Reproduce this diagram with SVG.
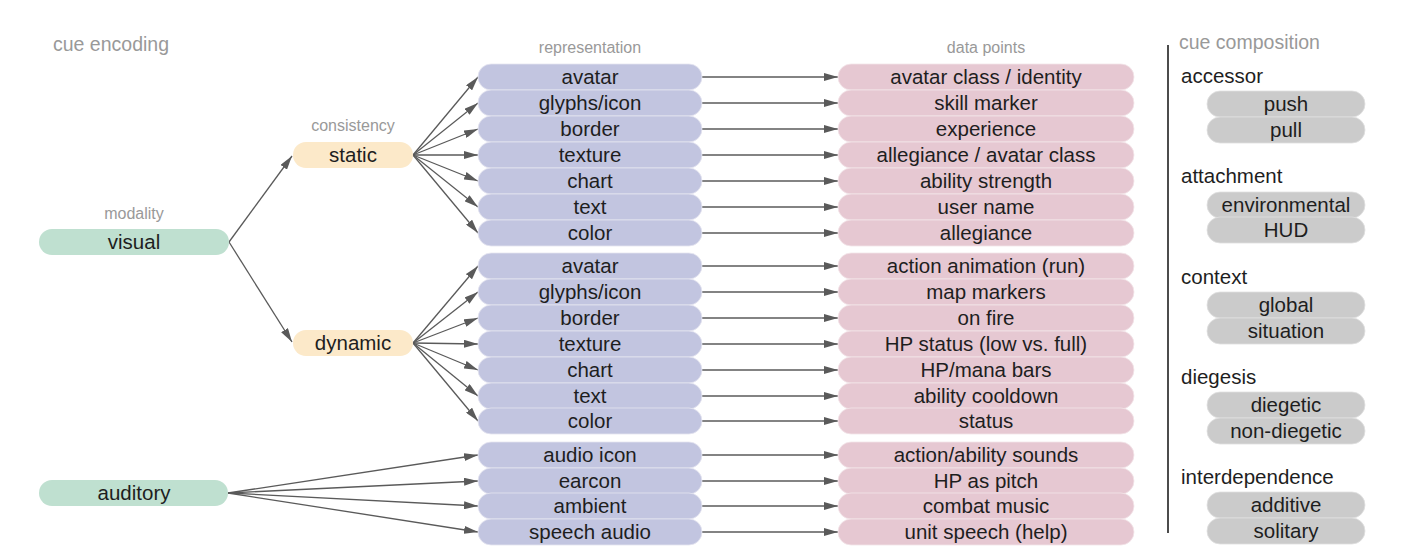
<svg xmlns="http://www.w3.org/2000/svg" width="1416" height="560" viewBox="0 0 1416 560">
<defs>
<marker id="ah" viewBox="0 0 14 8" refX="14" refY="4" markerWidth="14" markerHeight="8" markerUnits="userSpaceOnUse" orient="auto">
<path d="M0,0 L14,4 L0,8 z" fill="#5a5a5a"/>
</marker>
<style>
.hdr{font-family:"Liberation Sans",Arial,sans-serif;font-size:16px;fill:#999;text-anchor:middle}
.big{font-family:"Liberation Sans",Arial,sans-serif;font-size:19.5px;fill:#999}
.t{font-family:"Liberation Sans",Arial,sans-serif;font-size:20.5px;fill:#1e1e1e;text-anchor:middle}
.cat{font-family:"Liberation Sans",Arial,sans-serif;font-size:20.5px;fill:#1e1e1e}
.g{fill:#bfe0d0}
.o{fill:#fce9c9}
.b{fill:#c2c5e0;stroke:#e4e5f0;stroke-width:0.8}
.p{fill:#e6c8d2;stroke:#f2e4e8;stroke-width:0.8}
.s{fill:#cbcbcb;stroke:#e0e0e0;stroke-width:0.8}
.c{stroke:#5a5a5a;stroke-width:1.3;fill:none;marker-end:url(#ah)}
</style>
</defs>
<rect width="1416" height="560" fill="#fff"/>

<g id="headers">
<text class="big" x="53" y="51">cue encoding</text>
<text class="hdr" x="134" y="219">modality</text>
<text class="hdr" x="353" y="131">consistency</text>
<text class="hdr" x="590" y="53">representation</text>
<text class="hdr" x="986" y="53">data points</text>
<text class="big" x="1179" y="49">cue composition</text>
</g>

<g id="connectors">
<line class="c" x1="229" y1="242" x2="292" y2="156"/>
<line class="c" x1="229" y1="242" x2="292" y2="342"/>
<line class="c" x1="413" y1="155" x2="478" y2="77"/>
<line class="c" x1="413" y1="155" x2="478" y2="103"/>
<line class="c" x1="413" y1="155" x2="478" y2="129"/>
<line class="c" x1="413" y1="155" x2="478" y2="155"/>
<line class="c" x1="413" y1="155" x2="478" y2="181"/>
<line class="c" x1="413" y1="155" x2="478" y2="207"/>
<line class="c" x1="413" y1="155" x2="478" y2="233"/>
<line class="c" x1="413" y1="343" x2="478" y2="266"/>
<line class="c" x1="413" y1="343" x2="478" y2="292"/>
<line class="c" x1="413" y1="343" x2="478" y2="318"/>
<line class="c" x1="413" y1="343" x2="478" y2="344"/>
<line class="c" x1="413" y1="343" x2="478" y2="370"/>
<line class="c" x1="413" y1="343" x2="478" y2="396"/>
<line class="c" x1="413" y1="343" x2="478" y2="421"/>
<line class="c" x1="228" y1="493" x2="478" y2="455"/>
<line class="c" x1="228" y1="493" x2="478" y2="481"/>
<line class="c" x1="228" y1="493" x2="478" y2="506"/>
<line class="c" x1="228" y1="493" x2="478" y2="532"/>
<line class="c" x1="702" y1="77" x2="838" y2="77"/>
<line class="c" x1="702" y1="103" x2="838" y2="103"/>
<line class="c" x1="702" y1="129" x2="838" y2="129"/>
<line class="c" x1="702" y1="155" x2="838" y2="155"/>
<line class="c" x1="702" y1="181" x2="838" y2="181"/>
<line class="c" x1="702" y1="207" x2="838" y2="207"/>
<line class="c" x1="702" y1="233" x2="838" y2="233"/>
<line class="c" x1="702" y1="266" x2="838" y2="266"/>
<line class="c" x1="702" y1="292" x2="838" y2="292"/>
<line class="c" x1="702" y1="318" x2="838" y2="318"/>
<line class="c" x1="702" y1="344" x2="838" y2="344"/>
<line class="c" x1="702" y1="370" x2="838" y2="370"/>
<line class="c" x1="702" y1="396" x2="838" y2="396"/>
<line class="c" x1="702" y1="421" x2="838" y2="421"/>
<line class="c" x1="702" y1="455" x2="838" y2="455"/>
<line class="c" x1="702" y1="481" x2="838" y2="481"/>
<line class="c" x1="702" y1="506" x2="838" y2="506"/>
<line class="c" x1="702" y1="532" x2="838" y2="532"/>
</g>

<g id="visual"><rect class="g" x="39" y="229" width="190" height="26" rx="13"/><text class="t" x="134" y="249">visual</text></g>
<g id="auditory"><rect class="g" x="39" y="480" width="189" height="26" rx="13"/><text class="t" x="134" y="500">auditory</text></g>
<g id="static"><rect class="o" x="293" y="142" width="120" height="26" rx="13"/><text class="t" x="353" y="162">static</text></g>
<g id="dynamic"><rect class="o" x="293" y="330" width="120" height="26" rx="13"/><text class="t" x="353" y="350">dynamic</text></g>

<g id="rep-static">
<rect class="b" x="478" y="64" width="224" height="26" rx="13"/><text class="t" x="590" y="84">avatar</text>
<rect class="b" x="478" y="90" width="224" height="26" rx="13"/><text class="t" x="590" y="110">glyphs/icon</text>
<rect class="b" x="478" y="116" width="224" height="26" rx="13"/><text class="t" x="590" y="136">border</text>
<rect class="b" x="478" y="142" width="224" height="26" rx="13"/><text class="t" x="590" y="162">texture</text>
<rect class="b" x="478" y="168" width="224" height="26" rx="13"/><text class="t" x="590" y="188">chart</text>
<rect class="b" x="478" y="194" width="224" height="26" rx="13"/><text class="t" x="590" y="214">text</text>
<rect class="b" x="478" y="220" width="224" height="26" rx="13"/><text class="t" x="590" y="240">color</text>
</g>
<g id="rep-dynamic">
<rect class="b" x="478" y="253" width="224" height="26" rx="13"/><text class="t" x="590" y="273">avatar</text>
<rect class="b" x="478" y="279" width="224" height="26" rx="13"/><text class="t" x="590" y="299">glyphs/icon</text>
<rect class="b" x="478" y="305" width="224" height="26" rx="13"/><text class="t" x="590" y="325">border</text>
<rect class="b" x="478" y="331" width="224" height="26" rx="13"/><text class="t" x="590" y="351">texture</text>
<rect class="b" x="478" y="357" width="224" height="26" rx="13"/><text class="t" x="590" y="377">chart</text>
<rect class="b" x="478" y="383" width="224" height="26" rx="13"/><text class="t" x="590" y="403">text</text>
<rect class="b" x="478" y="408" width="224" height="26" rx="13"/><text class="t" x="590" y="428">color</text>
</g>
<g id="rep-audio">
<rect class="b" x="478" y="442" width="224" height="26" rx="13"/><text class="t" x="590" y="462">audio icon</text>
<rect class="b" x="478" y="468" width="224" height="26" rx="13"/><text class="t" x="590" y="488">earcon</text>
<rect class="b" x="478" y="493" width="224" height="26" rx="13"/><text class="t" x="590" y="513">ambient</text>
<rect class="b" x="478" y="519" width="224" height="26" rx="13"/><text class="t" x="590" y="539">speech audio</text>
</g>

<g id="data-static">
<rect class="p" x="838" y="64" width="296" height="26" rx="13"/><text class="t" x="986" y="84">avatar class / identity</text>
<rect class="p" x="838" y="90" width="296" height="26" rx="13"/><text class="t" x="986" y="110">skill marker</text>
<rect class="p" x="838" y="116" width="296" height="26" rx="13"/><text class="t" x="986" y="136">experience</text>
<rect class="p" x="838" y="142" width="296" height="26" rx="13"/><text class="t" x="986" y="162">allegiance / avatar class</text>
<rect class="p" x="838" y="168" width="296" height="26" rx="13"/><text class="t" x="986" y="188">ability strength</text>
<rect class="p" x="838" y="194" width="296" height="26" rx="13"/><text class="t" x="986" y="214">user name</text>
<rect class="p" x="838" y="220" width="296" height="26" rx="13"/><text class="t" x="986" y="240">allegiance</text>
</g>
<g id="data-dynamic">
<rect class="p" x="838" y="253" width="296" height="26" rx="13"/><text class="t" x="986" y="273">action animation (run)</text>
<rect class="p" x="838" y="279" width="296" height="26" rx="13"/><text class="t" x="986" y="299">map markers</text>
<rect class="p" x="838" y="305" width="296" height="26" rx="13"/><text class="t" x="986" y="325">on fire</text>
<rect class="p" x="838" y="331" width="296" height="26" rx="13"/><text class="t" x="986" y="351">HP status (low vs. full)</text>
<rect class="p" x="838" y="357" width="296" height="26" rx="13"/><text class="t" x="986" y="377">HP/mana bars</text>
<rect class="p" x="838" y="383" width="296" height="26" rx="13"/><text class="t" x="986" y="403">ability cooldown</text>
<rect class="p" x="838" y="408" width="296" height="26" rx="13"/><text class="t" x="986" y="428">status</text>
</g>
<g id="data-audio">
<rect class="p" x="838" y="442" width="296" height="26" rx="13"/><text class="t" x="986" y="462">action/ability sounds</text>
<rect class="p" x="838" y="468" width="296" height="26" rx="13"/><text class="t" x="986" y="488">HP as pitch</text>
<rect class="p" x="838" y="493" width="296" height="26" rx="13"/><text class="t" x="986" y="513">combat music</text>
<rect class="p" x="838" y="519" width="296" height="26" rx="13"/><text class="t" x="986" y="539">unit speech (help)</text>
</g>

<g id="composition">
<line x1="1168" y1="45" x2="1168" y2="533" stroke="#111" stroke-width="1.5"/>
<text class="cat" x="1181" y="83">accessor</text>
<rect class="s" x="1207" y="91" width="158" height="26" rx="13"/><text class="t" x="1286" y="111">push</text>
<rect class="s" x="1207" y="117" width="158" height="26" rx="13"/><text class="t" x="1286" y="137">pull</text>
<text class="cat" x="1181" y="183">attachment</text>
<rect class="s" x="1207" y="192" width="158" height="26" rx="13"/><text class="t" x="1286" y="212">environmental</text>
<rect class="s" x="1207" y="217" width="158" height="26" rx="13"/><text class="t" x="1286" y="237">HUD</text>
<text class="cat" x="1181" y="284">context</text>
<rect class="s" x="1207" y="292" width="158" height="26" rx="13"/><text class="t" x="1286" y="312">global</text>
<rect class="s" x="1207" y="318" width="158" height="26" rx="13"/><text class="t" x="1286" y="338">situation</text>
<text class="cat" x="1181" y="384">diegesis</text>
<rect class="s" x="1207" y="392" width="158" height="26" rx="13"/><text class="t" x="1286" y="412">diegetic</text>
<rect class="s" x="1207" y="418" width="158" height="26" rx="13"/><text class="t" x="1286" y="438">non-diegetic</text>
<text class="cat" x="1181" y="484">interdependence</text>
<rect class="s" x="1207" y="492" width="158" height="26" rx="13"/><text class="t" x="1286" y="512">additive</text>
<rect class="s" x="1207" y="518" width="158" height="26" rx="13"/><text class="t" x="1286" y="538">solitary</text>
</g>
</svg>
